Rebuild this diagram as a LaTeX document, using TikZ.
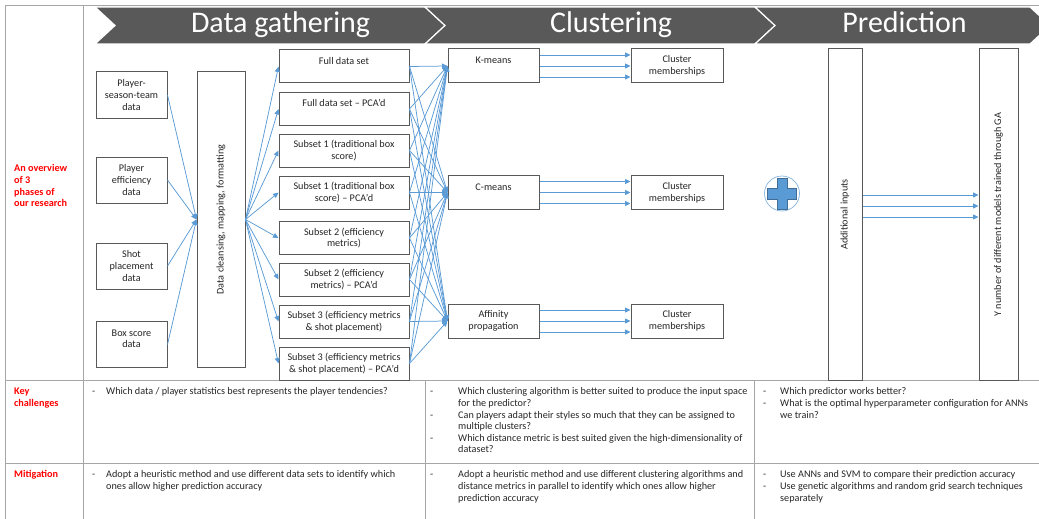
\documentclass[tikz,border=0pt]{standalone}
\usepackage{fontspec}
\setmainfont{Carlito}
\usetikzlibrary{arrows.meta}

\definecolor{lineblue}{HTML}{5B9BD5}
\definecolor{boxgray}{HTML}{595959}
\definecolor{hdrgray}{HTML}{595959}
\definecolor{rulegray}{HTML}{A6A6A6}
\definecolor{keyred}{HTML}{FF0000}

\newcommand{\boxfont}{\fontsize{10.2}{11.6}\selectfont}
\newcommand{\hdrfont}{\fontsize{30}{30}\selectfont}

\tikzset{
	box/.style={draw=boxgray, line width=1pt, fill=white, inner sep=0pt, align=center, text=black!85, font=\boxfont},
	arr/.style={lineblue, line width=0.75pt, -{Triangle[length=5.5pt,width=5pt]}},
	rule/.style={rulegray, line width=1pt},
	chev/.style={fill=hdrgray, draw=white, line width=1.2pt},
	hdr/.style={anchor=base, text=white, font=\hdrfont},
	keylbl/.style={anchor=north west, inner sep=0pt, text=keyred, font=\boxfont\bfseries},
	note/.style={anchor=north west, inner sep=0pt, text=black!85, font=\boxfont},
}

\begin{document}
\begin{tikzpicture}[x=1pt, y=-1pt]
			%%%%% START %%%%%
			\useasboundingbox (0, 0) rectangle (1039, 519);
			
			% table lines
			\draw[rule] (5, 6) -- (1039, 6);
			\draw[rule] (5, 6) -- (5, 519);
			\draw[rule] (83, 6) -- (83, 519);
			\draw[rule] (5, 380.5) -- (1039, 380.5);
			\draw[rule] (5, 463.5) -- (1039, 463.5);
			\draw[rule] (425, 380.5) -- (425, 519);
			\draw[rule] (754.5, 380.5) -- (754.5, 519);
			
			% phase band
			\draw[chev] (95, 7) -- (425, 7) -- (445, 25.5) -- (425, 44) -- (95, 44) -- (115, 25.5) -- cycle;
			\draw[chev] (425, 7) -- (755, 7) -- (775, 25.5) -- (755, 44) -- (425, 44) -- (445, 25.5) -- cycle;
			\draw[chev] (755, 7) -- (1030, 7) -- (1050, 25.5) -- (1030, 44) -- (755, 44) -- (775, 25.5) -- cycle;
			\node[hdr] (hgather) at (280.5, 33) {Data gathering};
			\node[hdr] (hcluster) at (611, 33) {Clustering};
			\node[hdr] (hpredict) at (904.5, 33) {Prediction};
			
			% row labels
			\node[keylbl] (overview) at (14, 163.5) {\begin{tabular}[t]{@{}l@{}}An overview\\of 3\\phases of\\our research\end{tabular}};
			\node[keylbl] (challenges) at (14, 386.5) {\begin{tabular}[t]{@{}l@{}}Key\\challenges\end{tabular}};
			\node[keylbl] (mitigation) at (14, 469.5) {\begin{tabular}[t]{@{}l@{}}Mitigation\end{tabular}};
			
			% raw data
			\node[box, minimum width=71pt, minimum height=46pt] (pst) at (131.5, 95) {Player-\\season-team\\data};
			\node[box, minimum width=71pt, minimum height=46pt] (pe) at (131.5, 180) {Player\\efficiency\\data};
			\node[box, minimum width=71pt, minimum height=46pt] (sp) at (131.5, 266) {Shot\\placement\\data};
			\node[box, minimum width=71pt, minimum height=46pt] (bs) at (131.5, 344.5) {Box score\\data\\~};
			
			\node[box, minimum width=48pt, minimum height=295pt] (clean) at (221, 219.5) {\rotatebox{90}{Data cleansing, mapping, formatting}};
			
			% data sets
			\node[box, minimum width=130pt, minimum height=33pt] (ds1) at (344, 66.5) {Full data set\\~};
			\node[box, minimum width=130pt, minimum height=33pt] (ds2) at (344, 109) {Full data set – PCA’d\\~};
			\node[box, minimum width=130pt, minimum height=33pt] (ds3) at (344, 150.5) {Subset 1 (traditional box\\score)};
			\node[box, minimum width=130pt, minimum height=33pt] (ds4) at (344, 192.5) {Subset 1 (traditional box\\score) – PCA’d};
			\node[box, minimum width=130pt, minimum height=33pt] (ds5) at (344, 238) {Subset 2 (efficiency\\metrics)};
			\node[box, minimum width=130pt, minimum height=33pt] (ds6) at (344, 279.5) {Subset 2 (efficiency\\metrics) – PCA’d};
			\node[box, minimum width=130pt, minimum height=33pt] (ds7) at (344, 321.5) {Subset 3 (efficiency metrics\\\& shot placement)};
			\node[box, minimum width=130pt, minimum height=33pt] (ds8) at (344, 363.5) {Subset 3 (efficiency metrics\\\& shot placement) – PCA’d};
			
			% clustering
			\node[box, minimum width=91pt, minimum height=34pt] (km) at (493.5, 66) {K-means\\~};
			\node[box, minimum width=91pt, minimum height=34pt] (cm) at (493.5, 192.5) {C-means\\~};
			\node[box, minimum width=91pt, minimum height=34pt] (ap) at (493.5, 321) {Affinity\\propagation};
			
			\node[box, minimum width=92pt, minimum height=34pt] (kmout) at (677, 66) {Cluster\\memberships};
			\node[box, minimum width=92pt, minimum height=34pt] (cmout) at (677, 192.5) {Cluster\\memberships};
			\node[box, minimum width=92pt, minimum height=34pt] (apout) at (677, 321) {Cluster\\memberships};
			
			% prediction
			\node[box, minimum width=34pt, minimum height=331pt] (addin) at (845, 214.5) {\rotatebox{90}{Additional inputs}};
			\node[box, minimum width=39pt, minimum height=331pt] (models) at (998.5, 214.5) {\rotatebox{90}{Y number of different models trained through GA}};
			
			\draw[lineblue!75, line width=0.7pt, fill=white] (782, 193.5) circle (17.5);
			\filldraw[fill=lineblue, draw=lineblue!70!black, line width=0.4pt] (777, 178) -- (787, 178) -- (787, 188) -- (796, 188) -- (796, 199) -- (787, 199) -- (787, 209) -- (777, 209) -- (777, 199) -- (767, 199) -- (767, 188) -- (777, 188) -- cycle;
			
			% connectors
			\foreach \src in {pst, pe, sp, bs}
				\draw[arr] (\src.east) -- (clean.west);
			\foreach \i in {1,...,8}
				\draw[arr] (clean.east) -- (ds\i.west);
			\foreach \i in {1,...,8}
				\foreach \alg in {km, cm, ap}
					\draw[arr] (ds\i.east) -- (\alg.west);
			\foreach \alg/\res in {km/kmout, cm/cmout, ap/apout}
				\foreach \dy in {11, 0, -11}
					\draw[arr] ([yshift=\dy pt]\alg.east) -- ([yshift=\dy pt]\res.west);
			\foreach \dy in {19.5, 8.5, -2.5}
				\draw[arr] ([yshift=\dy pt]addin.east) -- ([yshift=\dy pt]models.west);
			
			% challenges and mitigation
			\node[note] (chgather) at (92, 386.5) {\begin{tabular}[t]{@{}p{14pt}@{}l@{}}
				- & Which data / player statistics best represents the player tendencies?
			\end{tabular}};
			\node[note] (mitgather) at (92, 469.5) {\begin{tabular}[t]{@{}p{14pt}@{}l@{}}
				- & Adopt a heuristic method and use different data sets to identify which\\
				  & ones allow higher prediction accuracy
			\end{tabular}};
			\node[note] (chcluster) at (430, 386.5) {\begin{tabular}[t]{@{}p{28pt}@{}l@{}}
				- & Which clustering algorithm is better suited to produce the input space\\
				  & for the predictor?\\
				- & Can players adapt their styles so much that they can be assigned to\\
				  & multiple clusters?\\
				- & Which distance metric is best suited given the high-dimensionality of\\
				  & dataset?
			\end{tabular}};
			\node[note] (mitcluster) at (430, 469.5) {\begin{tabular}[t]{@{}p{28pt}@{}l@{}}
				- & Adopt a heuristic method and use different clustering algorithms and\\
				  & distance metrics in parallel to identify which ones allow higher\\
				  & prediction accuracy
			\end{tabular}};
			\node[note] (chpredict) at (763, 386.5) {\begin{tabular}[t]{@{}p{17pt}@{}l@{}}
				- & Which predictor works better?\\
				- & What is the optimal hyperparameter configuration for ANNs\\
				  & we train?
			\end{tabular}};
			\node[note] (mitpredict) at (763, 469.5) {\begin{tabular}[t]{@{}p{17pt}@{}l@{}}
				- & Use ANNs and SVM to compare their prediction accuracy\\
				- & Use genetic algorithms and random grid search techniques\\
				  & separately
			\end{tabular}};
			
			%%%%% END %%%%%
\end{tikzpicture}
\end{document}
